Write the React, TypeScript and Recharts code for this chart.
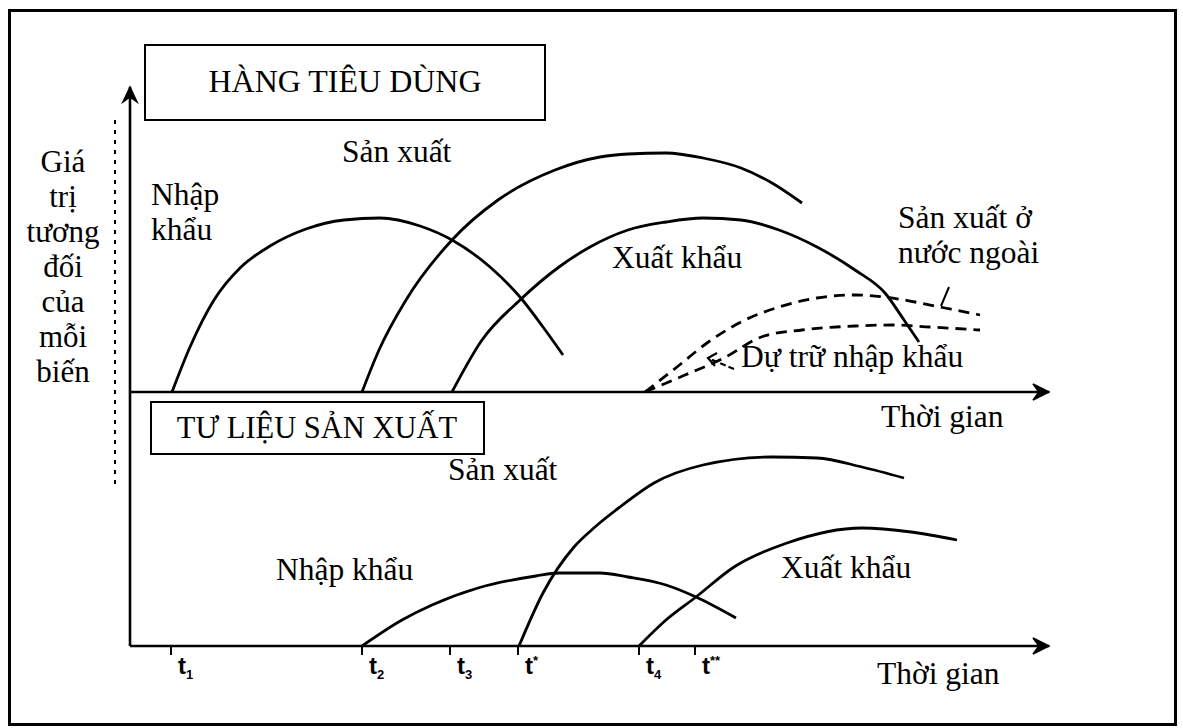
import React from "react";
import { LineChart, Line, XAxis, YAxis, ReferenceLine, ReferenceDot } from "recharts";

if (typeof document !== "undefined") {
  document.body.style.margin = "0";
  document.body.style.overflow = "hidden";
}

const W = 1183;
const H = 728;
const SERIF = '"Liberation Serif", "Times New Roman", Times, serif';
const SANS = '"Liberation Sans", Arial, sans-serif';
const INK = "#000";
const LABEL_SIZE = 31.5;

// ---------- shared time axis ----------
const timeDomain: [number, number] = [0, 919];
const tickValues = [41, 232, 320, 388, 509, 565];
const tickSuffixes = ["1", "2", "3", "*", "4", "**"];
const tickSuffixKinds = ["sub", "sub", "sub", "sup", "sub", "sup"];
const axisTitle = "Thời gian";

// ---------- titles ----------
const upperTitle = "HÀNG TIÊU DÙNG";
const lowerTitle = "TƯ LIỆU SẢN XUẤT";
const yTitleLines = ["Giá", "trị", "tương", "đối", "của", "mỗi", "biến"];

// ---------- value domains ----------
const upperValueDomain: [number, number] = [0, 305];
const lowerValueDomain: [number, number] = [0, 254];

// ---------- upper panel: consumer goods ----------
const upperImportX = [42, 60, 84, 110, 140, 176, 214, 250, 290, 322, 360, 390, 413, 433];
const upperImportY = [0, 45, 92, 124, 146, 163, 172, 174, 166, 152, 125, 95, 65, 37];

const upperProductionX = [232, 249, 276, 322, 368, 425, 470, 498, 536, 573, 611, 642, 672];
const upperProductionY = [0, 42, 92, 152, 192, 222, 235, 238, 239, 234, 224, 209, 189];

const upperExportX = [322, 352, 390, 429, 460, 498, 536, 573, 611, 649, 687, 725, 755, 774, 789];
const upperExportY = [0, 52, 92, 125, 145, 162, 170, 174, 172, 162, 145, 122, 99, 72, 50];

const overseasX = [515, 547, 577, 611, 649, 687, 725, 755, 785, 815, 850];
const overseasY = [0, 25, 49, 70, 85, 94, 97, 95, 90, 84, 77];

const reserveX = [515, 555, 592, 634, 672, 725, 763, 800, 850];
const reserveY = [0, 17, 33, 56, 62, 66, 67, 65, 62];

// ---------- lower panel: capital goods ----------
const lowerImportX = [232, 272, 302, 348, 406, 429, 470, 498, 536, 566, 606];
const lowerImportY = [0, 26, 41, 58, 70, 73, 73, 69, 61, 49, 28];

const lowerProductionX = [389, 413, 444, 465, 490, 524, 573, 642, 687, 732, 774];
const lowerProductionY = [0, 53, 99, 119, 139, 163, 181, 189, 188, 179, 168];

const lowerExportX = [509, 536, 566, 604, 657, 732, 781, 827];
const lowerExportY = [0, 26, 49, 79, 103, 118, 114, 106];

const pts = (xs: number[], ys: number[]) => xs.map((x, i) => ({ x, y: ys[i] }));

const note = (key: string, x: number, y: number, text: string, size = LABEL_SIZE) => (
  <ReferenceDot
    key={key}
    x={x}
    y={y}
    r={0}
    ifOverflow="visible"
    shape={(p: any) => (
      <text x={p.cx} y={p.cy} fontFamily={SERIF} fontSize={size} fill={INK}>
        {text}
      </text>
    )}
  />
);

const arrowRight = (p: any) => (
  <path
    d={`M${p.cx},${p.cy} L${p.cx - 16},${p.cy - 8} L${p.cx - 10},${p.cy} L${p.cx - 16},${p.cy + 8} Z`}
    fill={INK}
    stroke={INK}
    strokeWidth={1.5}
  />
);

const arrowUp = (p: any) => (
  <path
    d={`M${p.cx},${p.cy} L${p.cx - 7},${p.cy + 15} L${p.cx},${p.cy + 10} L${p.cx + 7},${p.cy + 15} Z`}
    fill={INK}
    stroke={INK}
    strokeWidth={1.5}
  />
);

// small pointer from the "Dự trữ nhập khẩu" label to its dashed curve
const pointerLeft = (p: any) => (
  <g stroke={INK} strokeWidth={2.2} fill="none">
    <path d={`M${p.cx + 26},${p.cy + 11} L${p.cx},${p.cy}`} strokeDasharray="6 3" />
    <path d={`M${p.cx + 9},${p.cy - 5} L${p.cx},${p.cy} L${p.cx + 7},${p.cy + 8}`} />
  </g>
);

const TimeTick = (props: any) => {
  const { x, y, payload } = props;
  const i = tickValues.indexOf(payload.value);
  const kind = tickSuffixKinds[i];
  return (
    <text x={x + 7} y={y + 17} fontFamily={SANS} fontWeight="bold" fontSize={24} fill={INK}>
      t
      <tspan fontSize={13} dy={kind === "sub" ? 5 : -9}>
        {tickSuffixes[i]}
      </tspan>
    </text>
  );
};

const curve = (key: string, data: { x: number; y: number }[], dashed = false) => (
  <Line
    key={key}
    data={data}
    dataKey="y"
    type="monotone"
    stroke={INK}
    strokeWidth={2.8}
    strokeDasharray={dashed ? "11 7" : undefined}
    dot={false}
    activeDot={false}
    isAnimationActive={false}
  />
);

export default function App() {
  return (
    <div style={{ position: "relative", width: W, height: H, background: "#fff", overflow: "hidden" }}>
      <svg width={W} height={H} style={{ position: "absolute", left: 0, top: 0 }}>
        <rect x={9.5} y={10.5} width={1166} height={714} fill="none" stroke={INK} strokeWidth={3} />
        <line x1={115} y1={120} x2={115} y2={490} stroke={INK} strokeWidth={2} strokeDasharray="4 6" />
        <rect x={145} y={45} width={400} height={75} fill="#fff" stroke={INK} strokeWidth={2} />
        <text x={345} y={92} textAnchor="middle" fontSize={32} fontFamily={SERIF} fill={INK}>
          {upperTitle}
        </text>
        <rect x={151} y={402} width={333} height={52} fill="#fff" stroke={INK} strokeWidth={2} />
        <text x={317} y={438} textAnchor="middle" fontSize={30.5} fontFamily={SERIF} fill={INK}>
          {lowerTitle}
        </text>
        <text textAnchor="middle" fontSize={31} fontFamily={SERIF} fill={INK}>
          {yTitleLines.map((l, i) => (
            <tspan key={i} x={63} y={172 + 35 * i}>
              {l}
            </tspan>
          ))}
        </text>
      </svg>

      {/* Upper panel: consumer goods */}
      <div style={{ position: "absolute", left: 0, top: 0 }}>
        <LineChart width={W} height={H} margin={{ top: 87, right: 134, bottom: 336, left: 130 }}>
          <XAxis dataKey="x" type="number" domain={timeDomain} allowDataOverflow hide />
          <YAxis type="number" domain={upperValueDomain} allowDataOverflow hide />
          <ReferenceLine y={0} stroke={INK} strokeWidth={2.6} />
          <ReferenceLine x={0} stroke={INK} strokeWidth={2.6} />
          <ReferenceDot x={919} y={0} r={0} ifOverflow="visible" shape={arrowRight} />
          <ReferenceDot x={0} y={305} r={0} ifOverflow="visible" shape={arrowUp} />
          {curve("ui", pts(upperImportX, upperImportY))}
          {curve("up", pts(upperProductionX, upperProductionY))}
          {curve("ue", pts(upperExportX, upperExportY))}
          {curve("uo", pts(overseasX, overseasY), true)}
          {curve("ur", pts(reserveX, reserveY), true)}
          <ReferenceLine
            segment={[{ x: 819, y: 105 }, { x: 811, y: 86 }]}
            stroke={INK}
            strokeWidth={2}
            ifOverflow="visible"
          />
          <ReferenceDot x={578} y={34} r={0} ifOverflow="visible" shape={pointerLeft} />
          {note("n1", 212, 230, "Sản xuất")}
          {note("n2", 21, 187, "Nhập")}
          {note("n3", 21, 152, "khẩu")}
          {note("n4", 482, 124, "Xuất khẩu")}
          {note("n5", 768, 164, "Sản xuất ở")}
          {note("n6", 768, 129, "nước ngoài")}
          {note("n7", 611, 25, "Dự trữ nhập khẩu")}
          {note("n8", 751, -35, axisTitle)}
        </LineChart>
      </div>

      {/* Lower panel: capital goods */}
      <div style={{ position: "absolute", left: 0, top: 0 }}>
        <LineChart width={W} height={H} margin={{ top: 392, right: 134, bottom: 42, left: 130 }}>
          <XAxis
            dataKey="x"
            type="number"
            domain={timeDomain}
            allowDataOverflow
            ticks={tickValues}
            interval={0}
            height={40}
            tickSize={9}
            axisLine={{ stroke: INK, strokeWidth: 2.6 }}
            tickLine={{ stroke: INK, strokeWidth: 2 }}
            tick={<TimeTick />}
          />
          <YAxis type="number" domain={lowerValueDomain} allowDataOverflow hide />
          <ReferenceLine x={0} stroke={INK} strokeWidth={2.6} />
          <ReferenceDot x={919} y={0} r={0} ifOverflow="visible" shape={arrowRight} />
          {curve("li", pts(lowerImportX, lowerImportY))}
          {curve("lp", pts(lowerProductionX, lowerProductionY))}
          {curve("le", pts(lowerExportX, lowerExportY))}
          {note("m1", 318, 166, "Sản xuất")}
          {note("m2", 146, 66, "Nhập khẩu")}
          {note("m3", 651, 68, "Xuất khẩu")}
          {note("m4", 747, -38, axisTitle)}
        </LineChart>
      </div>
    </div>
  );
}
